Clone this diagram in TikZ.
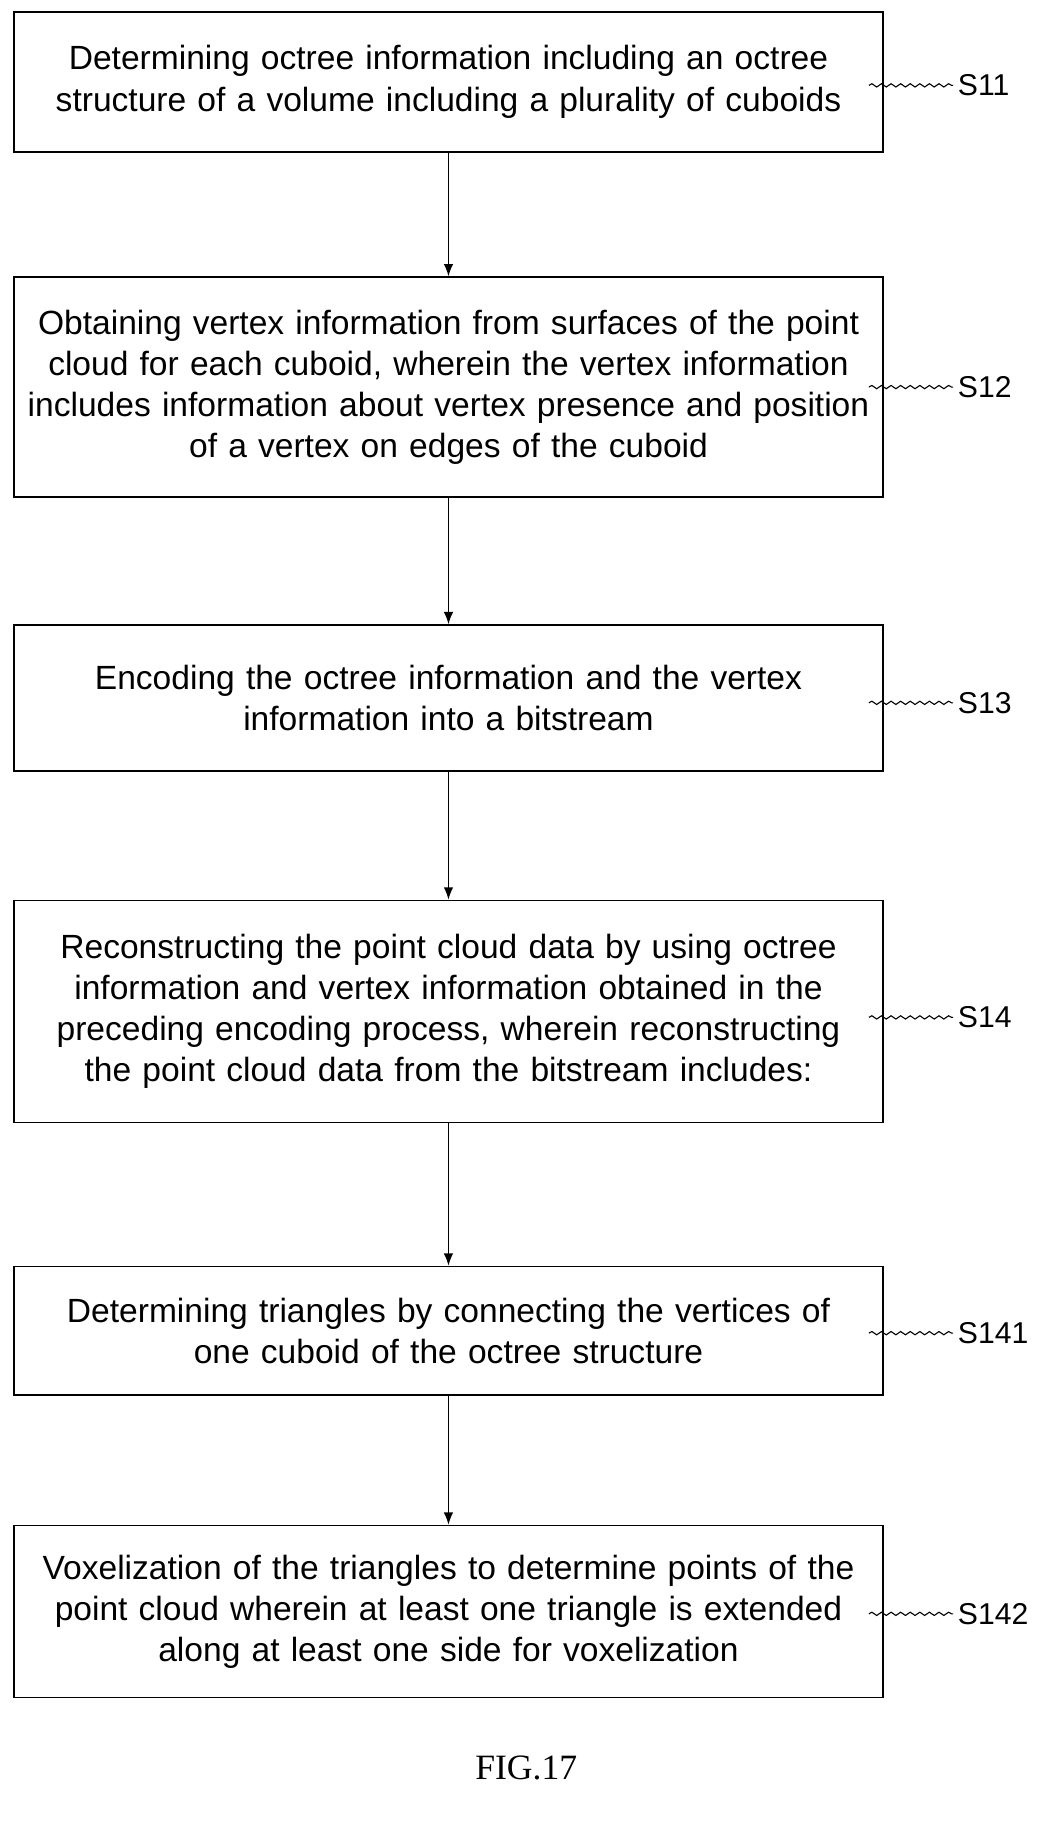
\documentclass[tikz,border=0pt]{standalone}
\usepackage{fontspec}
\setmainfont{Liberation Sans}
\newfontfamily\capfont{Liberation Serif}
\usetikzlibrary{positioning, decorations.pathmorphing, arrows.meta}

\begin{document}
\begin{tikzpicture}[x=0.03cm, y=-0.03cm, >={Latex[length=9pt,width=7pt]},
    stepbox/.style={draw, line width=1.2pt, text width=22.3cm, align=center,
        font=\fontsize{24.5}{30}\selectfont, inner sep=0pt},
    tag/.style={font=\fontsize{22}{26}\selectfont, anchor=west},
    squig/.style={decorate, decoration={snake, amplitude=1.2pt, segment length=7pt}, line width=0.8pt}]

    \useasboundingbox (0,0) rectangle (905,1570);

    % process steps
    \node[stepbox, minimum height=120*0.03cm] (s11) at (383.5,70)
        {Determining octree information including an octree\\structure of a volume including a plurality of cuboids};
    \node[stepbox, minimum height=188*0.03cm] (s12) at (383.5,331)
        {Obtaining vertex information from surfaces of the point\\cloud for each cuboid, wherein the vertex information\\includes information about vertex presence and position\\of a vertex on edges of the cuboid};
    \node[stepbox, minimum height=125*0.03cm] (s13) at (383.5,597)
        {Encoding the octree information and the vertex\\information into a bitstream};
    \node[stepbox, minimum height=190*0.03cm] (s14) at (383.5,865)
        {Reconstructing the point cloud data by using octree\\information and vertex information obtained in the\\preceding encoding process, wherein reconstructing\\the point cloud data from the bitstream includes:};
    \node[stepbox, minimum height=110*0.03cm] (s141) at (383.5,1138)
        {Determining triangles by connecting the vertices of\\one cuboid of the octree structure};
    \node[stepbox, minimum height=147*0.03cm] (s142) at (383.5,1378)
        {Voxelization of the triangles to determine points of the\\point cloud wherein at least one triangle is extended\\along at least one side for voxelization};

    % step labels
    \node[tag] (l11) at (815,73) {S11};
    \node[tag] (l12) at (815,331) {S12};
    \node[tag] (l13) at (815,601) {S13};
    \node[tag] (l14) at (815,870) {S14};
    \node[tag] (l141) at (815,1140) {S141};
    \node[tag] (l142) at (815,1380) {S142};
    \foreach \n in {11,12,13,14,141,142} {
        \draw[squig] ([xshift=-72*0.03cm]l\n.west) -- (l\n.west);
    }

    % flow
    \draw[->, line width=1pt] (s11) -- (s12);
    \draw[->, line width=1pt] (s12) -- (s13);
    \draw[->, line width=1pt] (s13) -- (s14);
    \draw[->, line width=1pt] (s14) -- (s141);
    \draw[->, line width=1pt] (s141) -- (s142);

    \node[font=\capfont\fontsize{26}{30}\selectfont] (fig) at (450,1512) {FIG.17};

\end{tikzpicture}
\end{document}
